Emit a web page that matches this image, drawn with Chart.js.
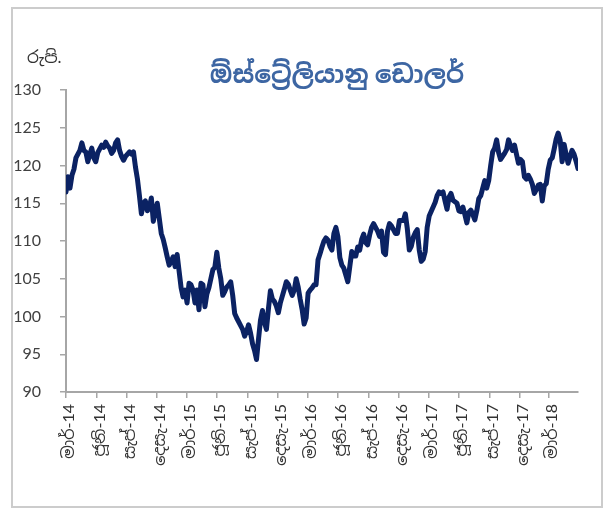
<!DOCTYPE html>
<html><head><meta charset="utf-8">
<script src="https://cdn.jsdelivr.net/npm/chart.js@4.4.1/dist/chart.umd.min.js"></script>
<style>html,body{margin:0;padding:0;background:#fff}#wrap{width:605px;height:520px;position:relative}</style>
</head><body><div id="wrap"><canvas id="c" width="605" height="520"></canvas></div>
<script>
const chartTitle = 'ඕස්ට්‍රේලියානු ඩොලර්';
const unitLabel = 'රුපි.';
const startDate = '2014-03-01';
const stepDays = 6;
const rates = [
116.5,118.5,117,118.7,119.5,121,121.5,122,123,122,121.8,120.5,121.5,122.3,121,120.5,121.7,122.2,122.7,122.4,
123.1,122.6,122.3,121.6,122,123,123.4,122,121.2,120.7,121.2,121.5,121.8,121.5,121.8,119.8,118.2,116,113.6,115,
115.3,114,114.5,115.7,112.6,114,115,113,111,110.2,109.1,107.9,106.8,107.3,107.9,106.6,108.2,106,103.8,102.6,
103.5,101.8,104.4,104.2,103.5,101.8,103.5,100.9,104.4,104.2,101.3,103,103.8,105,106.2,106.5,108.5,106.4,105,102.8,
103.3,103.9,104.2,104.6,102.8,100.4,99.8,99.3,98.8,98.3,97.4,98,98.9,97.8,96.4,95.5,94.3,97,99.5,100.8,
99.2,98.3,101,103.4,102.3,102,101.4,100.5,101.8,102.7,103.6,104.6,104.3,103.5,102.8,103.5,105,103.9,102.3,100.9,
99,99.8,103.1,103.5,103.8,104.2,104.2,107.5,108.3,109.2,110,110.4,110.1,109.3,108.8,111,111.8,110.6,107.8,106.8,
106.4,105.5,104.6,106.6,108.6,108,108,109.2,108.8,110.2,110.9,109.8,109.5,110.8,111.8,112.3,111.8,111.3,110.6,111.3,
108.5,108.2,111.3,112.3,112,111.5,111,111,112.7,112.7,112.7,113.6,111.6,108.8,109.3,110.5,111.1,111.5,108.8,107.3,
107.6,108.6,111.8,113.3,113.9,114.5,115.1,116,116.5,116.3,116.5,115.3,114.2,115.8,116.3,115.4,115.2,115,114,113.9,
114.5,113.5,112.4,113.8,114.1,113.5,112.8,114,115.6,116,117,118,117,118,120,121.8,122.3,123.4,121.7,120.8,
121.2,121.6,122.1,123.4,122.6,122,122.7,121.5,120.3,120.8,120.5,118.5,118.2,118.7,118.2,117.5,116.3,116.8,117.4,117.5,
115.3,117.3,117.6,119.5,120.7,121,122.2,123.5,124.3,123.4,120.5,122.8,121.5,120.3,121.2,122,121.5,120.6,119.6];
const tickDates = ['2014-03-01','2014-06-01','2014-09-01','2014-12-01','2015-03-01','2015-06-01','2015-09-01','2015-12-01',
'2016-03-01','2016-06-01','2016-09-01','2016-12-01','2017-03-01','2017-06-01','2017-09-01','2017-12-01','2018-03-01'];
const tickLabels = ['මාර්-14','ජූනි-14','සැප්-14','දෙසැ-14','මාර්-15','ජූනි-15','සැප්-15','දෙසැ-15',
'මාර්-16','ජූනි-16','සැප්-16','දෙසැ-16','මාර්-17','ජූනි-17','සැප්-17','දෙසැ-17','මාර්-18'];
const yMin = 90, yMax = 130, yStep = 5;

const DAY = 86400000;
const t0 = Date.parse(startDate + 'T00:00:00Z');
const tickDays = tickDates.map(d => Math.round((Date.parse(d + 'T00:00:00Z') - t0) / DAY));
const points = rates.map((v, i) => ({x: i * stepDays, y: v}));
const FONT = "Lato, 'Noto Sans Sinhala', 'Iskoola Pota', sans-serif";

const decor = {
  id: 'decor',
  afterDraw(chart) {
    const ctx = chart.ctx;
    ctx.save();
    ctx.strokeStyle = '#cccccc';
    ctx.lineWidth = 2;
    ctx.strokeRect(12, 8, 590, 499);
    ctx.fillStyle = '#3d66a3';
    ctx.font = "bold 25px " + FONT;
    ctx.textAlign = 'center';
    ctx.textBaseline = 'middle';
    ctx.fillText(chartTitle, 337, 75);
    ctx.fillStyle = '#333333';
    ctx.font = "17px " + FONT;
    ctx.textAlign = 'left';
    ctx.fillText(unitLabel, 27, 58);
    ctx.restore();
  }
};

new Chart(document.getElementById('c'), {
  type: 'line',
  data: { datasets: [{
    data: points,
    borderColor: '#0b2263',
    borderWidth: 5,
    pointRadius: 0,
    tension: 0,
    borderJoinStyle: 'round',
    borderCapStyle: 'round',
    fill: false
  }]},
  options: {
    responsive: false,
    animation: false,
    layout: { padding: { left: 14, right: 27, top: 90, bottom: 28 } },
    plugins: { legend: { display: false }, tooltip: { enabled: false }, title: { display: false } },
    scales: {
      x: {
        type: 'linear',
        min: 0,
        max: (rates.length - 1) * stepDays,
        afterBuildTicks: s => { s.ticks = tickDays.map(v => ({value: v})); },
        afterFit: s => { s.height = 100; s.paddingLeft = 0; s.paddingRight = 0; },
        ticks: {
          autoSkip: false, minRotation: 90, maxRotation: 90, padding: 6, labelOffset: 3,
          color: '#333333', font: { family: FONT, size: 16 },
          callback: (v, i) => tickLabels[i]
        },
        grid: { drawOnChartArea: false, drawTicks: true, tickLength: 6, color: '#a6a6a6', lineWidth: 1.5 },
        border: { color: '#a6a6a6', width: 2 }
      },
      y: {
        min: yMin, max: yMax,
        afterFit: s => { s.width = 52; s.paddingTop = 0; s.paddingBottom = 0; },
        ticks: { stepSize: yStep, padding: 19, color: '#404040', font: { family: FONT, size: 16 } },
        grid: { drawOnChartArea: false, drawTicks: true, tickLength: 6, color: '#a6a6a6', lineWidth: 1.5 },
        border: { color: '#a6a6a6', width: 2 }
      }
    }
  },
  plugins: [decor]
});
</script></body></html>
